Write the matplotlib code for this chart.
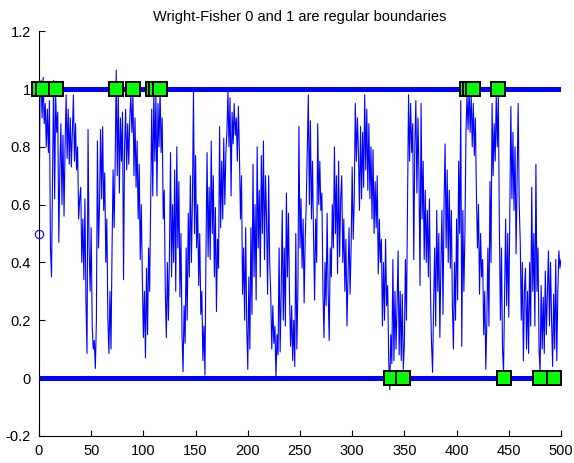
import numpy as np
import matplotlib
matplotlib.use("Agg")
import matplotlib.pyplot as plt

plt.rcParams['font.family'] = ['Liberation Sans', 'DejaVu Sans']

# Simulated allele frequency path (one value per time unit)
freq = [
    0.50, 0.98, 1.03, 0.90, 1.04, 0.88, 0.95, 0.80, 0.93, 0.78,
    0.96, 0.45, 0.35, 0.70, 1.03, 0.62, 0.98, 0.85, 0.92, 0.47,
    0.72, 0.88, 0.60, 0.84, 0.56, 0.80, 0.98, 0.76, 0.93, 0.74,
    0.90, 0.73, 0.86, 0.98, 0.75, 0.88, 0.72, 0.80, 0.55, 0.62,
    0.66, 0.40, 0.55, 0.34, 0.62, 0.27, 0.085, 0.86, 0.45, 0.30,
    0.52, 0.18, 0.10, 0.13, 0.033, 0.20, 0.82, 0.45, 0.60, 0.86,
    0.62, 0.87, 0.58, 0.71, 0.40, 0.55, 0.20, 0.085, 0.30, 0.10,
    0.45, 0.72, 0.52, 0.75, 1.065, 0.70, 0.98, 0.64, 0.90, 0.75,
    0.92, 0.34, 0.80, 0.93, 0.72, 0.88, 0.74, 0.90, 0.98, 0.85,
    0.98, 0.70, 0.90, 0.66, 0.82, 0.55, 0.74, 0.41, 0.60, 0.35,
    0.14, 0.30, 0.07, 0.38, 0.15, 0.45, 0.30, 0.60, 0.93, 0.63,
    1.00, 0.75, 0.98, 0.63, 0.95, 0.80, 1.00, 0.78, 0.90, 0.55,
    0.65, 0.30, 0.14, 0.40, 0.20, 0.43, 0.78, 0.35, 0.60, 0.40,
    0.72, 0.30, 0.80, 0.45, 0.68, 0.28, 0.50, 0.15, 0.022, 0.25,
    0.12, 0.45, 0.20, 0.57, 0.35, 0.70, 0.40, 0.62, 0.99, 0.50,
    0.77, 0.45, 0.60, 0.32, 0.50, 0.22, 0.30, 0.06, 0.18, 0.01,
    0.45, 0.78, 0.42, 0.66, 0.41, 0.82, 0.50, 0.70, 0.35, 0.59,
    0.23, 0.48, 0.38, 0.87, 0.52, 0.75, 0.55, 0.83, 0.60, 0.78,
    0.85, 0.99, 0.80, 0.97, 0.63, 0.92, 0.81, 0.95, 0.84, 0.90,
    0.75, 0.94, 0.78, 0.55, 0.70, 0.29, 0.45, 0.20, 0.52, 0.18,
    0.03, 0.35, 0.10, 0.52, 0.22, 0.74, 0.35, 0.60, 0.27, 0.80,
    0.45, 0.65, 0.35, 0.77, 0.50, 0.82, 0.41, 0.70, 0.55, 0.29,
    0.70, 0.40, 0.29, 0.10, 0.25, 0.12, 0.18, 0.00, 0.15, 0.08,
    0.45, 0.09, 0.30, 0.58, 0.20, 0.45, 0.18, 0.64, 0.35, 0.57,
    0.28, 0.11, 0.25, 0.06, 0.20, 0.04, 0.50, 0.10, 0.30, 0.87,
    0.45, 0.62, 0.38, 0.55, 0.26, 0.48, 0.60, 0.80, 0.98, 0.60,
    0.89, 0.55, 0.75, 0.49, 0.27, 0.55, 0.40, 0.88, 0.60, 0.75,
    0.58, 0.64, 0.30, 0.14, 0.40, 0.25, 0.57, 0.30, 0.13, 0.45,
    0.35, 0.60, 0.45, 0.80, 0.50, 0.70, 0.36, 0.75, 0.42, 0.62,
    0.70, 0.40, 0.55, 0.30, 0.48, 0.18, 0.35, 0.52, 0.29, 0.45,
    0.73, 0.48, 0.62, 0.95, 0.75, 0.90, 0.78, 0.58, 0.87, 0.62,
    0.85, 0.66, 0.98, 0.72, 0.93, 0.65, 0.88, 0.62, 0.80, 0.55,
    0.79, 0.50, 0.68, 0.52, 0.70, 0.36, 0.55, 0.40, 0.48, 0.18,
    0.40, 0.20, 0.48, 0.25, 0.32, 0.06, -0.04, 0.15, 0.05, 0.41,
    0.06, 0.30, 0.10, 0.25, 0.44, 0.08, 0.30, 0.06, 0.29, 0.03,
    0.12, 0.41, 0.20, 0.60, 0.98, 0.75, 0.95, 0.78, 0.88, 0.41,
    0.80, 0.96, 0.64, 0.90, 0.70, 0.32, 0.95, 0.55, 0.75, 0.41,
    0.65, 0.40, 0.58, 0.35, 0.62, 0.30, 0.12, 0.02, 0.25, 0.45,
    0.18, 0.58, 0.30, 0.50, 0.14, 0.40, 0.58, 0.22, 0.60, 0.81,
    0.45, 0.72, 0.40, 0.65, 0.38, 0.58, 0.25, 0.10, 0.40, 0.20,
    0.55, 0.27, 0.75, 0.50, 0.96, 0.11, 0.58, 0.30, 0.50, 0.85,
    0.98, 0.86, 1.00, 0.85, 0.98, 0.80, 0.95, 0.77, 0.90, 0.64,
    0.45, 0.60, 0.29, 0.50, 0.35, 0.41, 0.15, 0.30, 0.03, 0.20,
    0.45, 0.18, 0.68, 0.40, 0.95, 0.70, 0.88, 0.75, 0.98, 0.80,
    0.98, 0.52, 0.20, 0.45, 0.10, 0.02, 0.29, 0.55, 0.25, 0.50,
    0.21, 0.58, 0.94, 0.62, 0.85, 0.58, 0.80, 0.43, 0.70, 0.95,
    0.60, 0.47, 0.20, 0.40, 0.06, 0.30, 0.38, 0.10, 0.30, 0.085,
    0.40, 0.18, 0.66, 0.30, 0.50, 0.18, 0.74, 0.30, 0.45, 0.10,
    0.02, 0.32, 0.10, 0.28, 0.085, 0.37, 0.15, 0.30, 0.44, 0.18,
    0.40, 0.20, 0.04, 0.29, 0.10, 0.41, 0.06, 0.30, 0.44, 0.38,
    0.41,
]
t = np.arange(len(freq))

# Times at which the path reaches a boundary
hits_one = [0, 4, 16, 74, 90, 109, 112.5, 116, 410, 413, 416, 440]
hits_zero = [337, 349, 445, 480, 493]

t_end = 500
x0 = 0.5

xticks = list(range(0, 501, 50))
yticks = [-0.2, 0, 0.2, 0.4, 0.6, 0.8, 1.0, 1.2]
ytick_labels = ['-0.2', '0', '0.2', '0.4', '0.6', '0.8', '1', '1.2']

fig = plt.figure(figsize=(5.74, 4.63), dpi=100)
ax = fig.add_axes([0.0679, 0.0587, 0.9094, 0.8739])

blue = '#0000FF'
ax.plot(t, freq, color=blue, lw=0.8, zorder=2)
ax.plot([0, t_end], [1, 1], color=blue, lw=3.6, solid_capstyle='butt', zorder=3)
ax.plot([0, t_end], [0, 0], color=blue, lw=3.6, solid_capstyle='butt', zorder=3)
ax.plot([0], [x0], 'o', mfc='none', mec=blue, ms=6, mew=0.8, zorder=4, clip_on=False)

ax.plot(hits_one, [1] * len(hits_one), 's', mfc='#00FF00', mec='black',
        ms=9.6, mew=1.4, zorder=5, clip_on=False)
ax.plot(hits_zero, [0] * len(hits_zero), 's', mfc='#00FF00', mec='black',
        ms=9.6, mew=1.4, zorder=5, clip_on=False)

ax.set_xlim(0, 500)
ax.set_ylim(-0.2, 1.2)
ax.set_xticks(xticks)
ax.set_yticks(yticks)
ax.set_yticklabels(ytick_labels)

for s in ['top', 'right']:
    ax.spines[s].set_visible(False)
for s in ['left', 'bottom']:
    ax.spines[s].set_linewidth(0.8)
ax.tick_params(direction='in', length=4, width=0.8, labelsize=10.5)
ax.tick_params(axis='y', pad=6)
ax.tick_params(axis='x', pad=6)

ax.set_title('Wright-Fisher 0 and 1 are regular boundaries', fontsize=10.5, pad=7)

fig.savefig('out.png', dpi=100)
